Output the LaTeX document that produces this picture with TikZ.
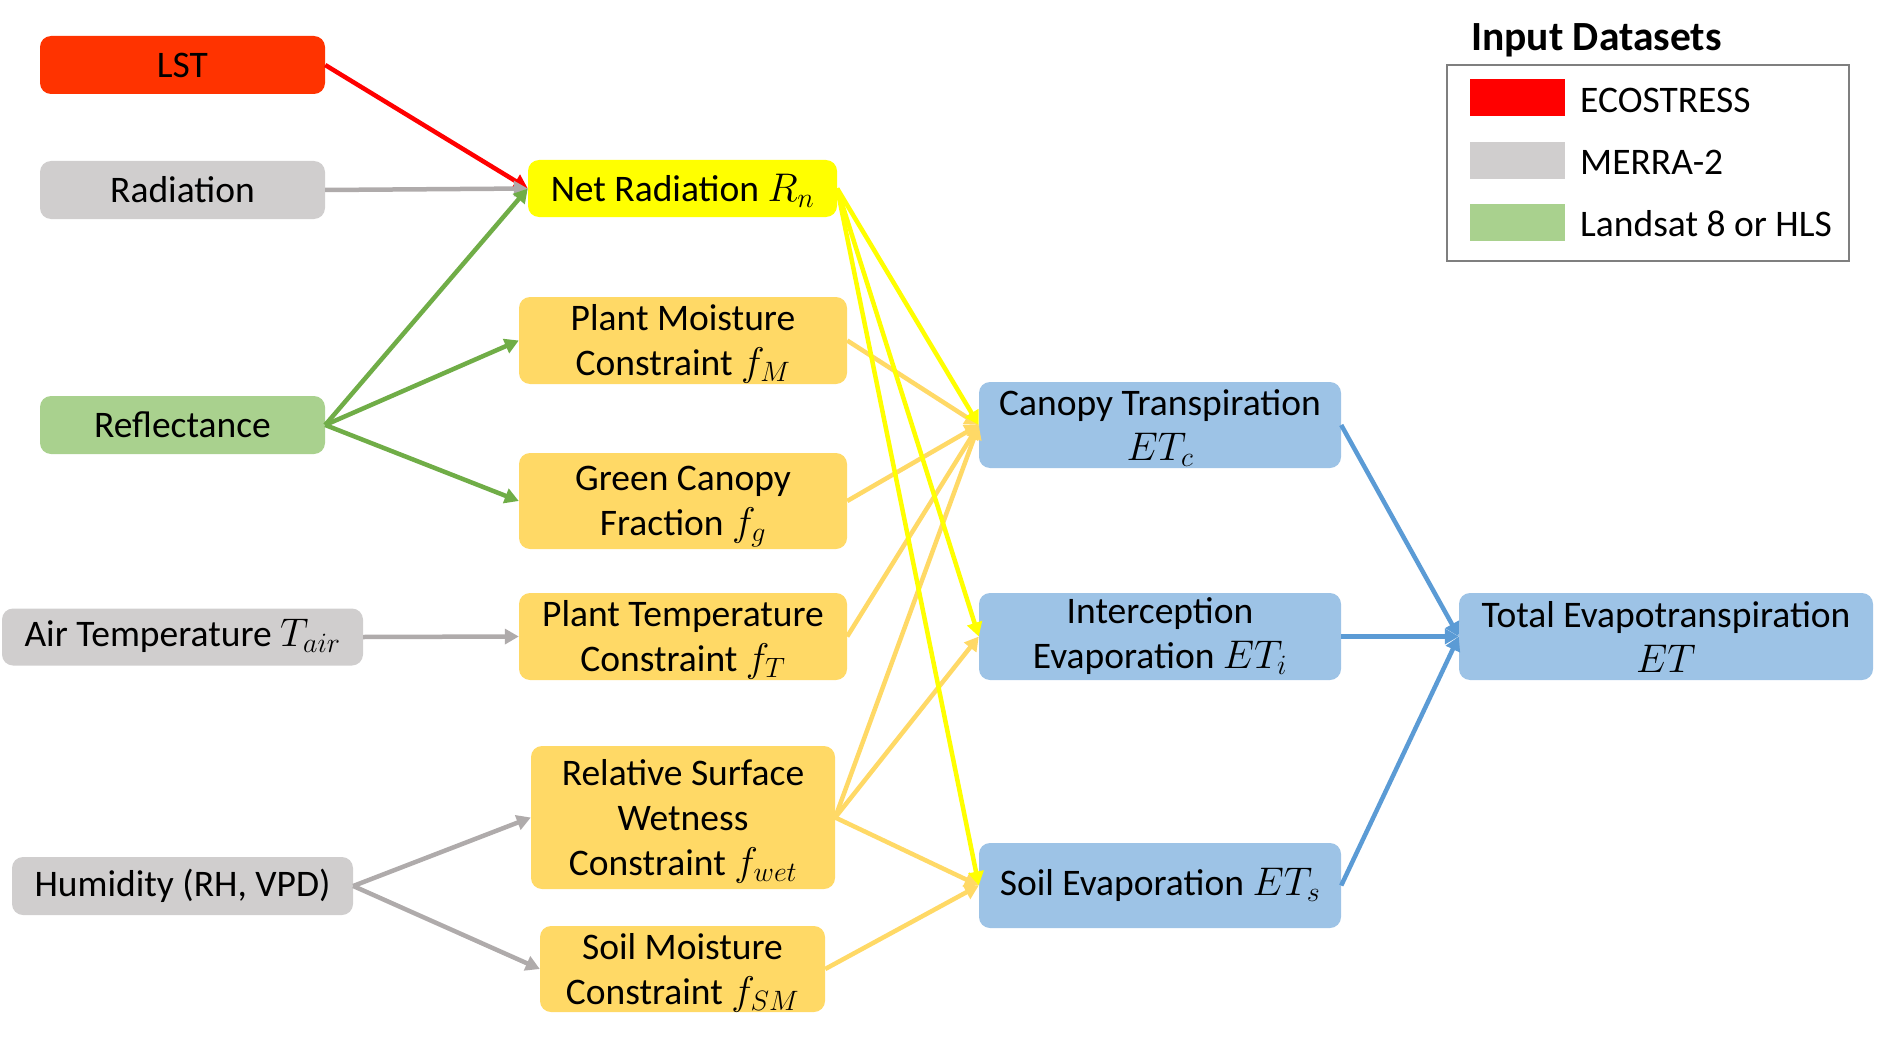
\RequirePackage{fix-cm}
\documentclass[tikz,border=0pt]{standalone}
\usepackage{fontspec}
\setmainfont{Carlito}
\usetikzlibrary{arrows.meta}
\definecolor{lstc}{HTML}{FF3300}
\definecolor{grayc}{HTML}{D0CECE}
\definecolor{greenc}{HTML}{A9D18E}
\definecolor{netc}{HTML}{FFFF00}
\definecolor{orc}{HTML}{FFD966}
\definecolor{bluec}{HTML}{9DC3E6}
\definecolor{redl}{HTML}{FF0000}
\definecolor{grayl}{HTML}{AFABAB}
\definecolor{greenl}{HTML}{70AD47}
\definecolor{bluel}{HTML}{5B9BD5}
\definecolor{legb}{HTML}{7F7F7F}
\newcommand\mth[1]{{\fontsize{40}{45}\selectfont\smash{$#1$}}}
\tikzset{
  box/.style={rounded corners=11pt, inner sep=0pt, align=center,
    font=\fontsize{37.5}{45}\selectfont},
  conn/.style={line width=4.5pt, -{Triangle[length=14pt,width=15pt]}},
  legtext/.style={font=\fontsize{37.5}{44}\selectfont, anchor=west, inner sep=0pt},
  swatch/.style={minimum width=95pt, minimum height=37pt, inner sep=0pt},
}
\begin{document}
\begin{tikzpicture}[x=1pt,y=-1pt]
\useasboundingbox (0,0) rectangle (1883,1038);
% inputs
\node[box, fill=lstc, minimum width=285pt, minimum height=58pt] (lst) at (182.5,65) {LST};
\node[box, fill=grayc, minimum width=285pt, minimum height=58pt] (rad) at (182.5,190) {Radiation};
\node[box, fill=greenc, minimum width=285pt, minimum height=58pt] (refl) at (182.5,425) {Reflectance};
\node[box, fill=grayc, minimum width=361pt, minimum height=57pt] (air) at (182.5,637) {Air Temperature \mth{T_{air}}};
\node[box, fill=grayc, minimum width=341pt, minimum height=58pt] (hum) at (182.5,886) {Humidity (RH, VPD)};
% middle
\node[box, fill=netc, minimum width=309pt, minimum height=57pt] (net) at (682.5,188.5) {Net Radiation \mth{R_n}};
\node[box, fill=orc, minimum width=328pt, minimum height=87pt] (pm) at (683,340.5) {Plant Moisture\\Constraint \mth{f_M}};
\node[box, fill=orc, minimum width=328pt, minimum height=96pt] (gc) at (683,501) {Green Canopy\\Fraction \mth{f_g}};
\node[box, fill=orc, minimum width=328pt, minimum height=87pt] (pt) at (683,636.5) {Plant Temperature\\Constraint \mth{f_T}};
\node[box, fill=orc, minimum width=304pt, minimum height=143pt] (rsw) at (683,817.5) {Relative Surface\\Wetness\\Constraint \mth{f_{wet}}};
\node[box, fill=orc, minimum width=285pt, minimum height=86pt] (sm) at (682.5,969) {Soil Moisture\\Constraint \mth{f_{SM}}};
% outputs
\node[box, fill=bluec, minimum width=362pt, minimum height=86pt] (ct) at (1160,425) {Canopy Transpiration\\\mth{ET_c}};
\node[box, fill=bluec, minimum width=362pt, minimum height=87pt] (ie) at (1160,636.5) {Interception\\Evaporation \mth{ET_i}};
\node[box, fill=bluec, minimum width=362pt, minimum height=85pt] (se) at (1160,885.5) {Soil Evaporation \mth{ET_s}};
\node[box, fill=bluec, minimum width=414pt, minimum height=87pt] (tet) at (1666,636.5) {Total Evapotranspiration\\\mth{ET}};
% legend
\node[font=\fontsize{41.5}{48}\selectfont\bfseries, anchor=west, inner sep=0pt] (legt) at (1471,40) {Input Datasets};
\node[draw=legb, line width=2pt, minimum width=402pt, minimum height=196pt, inner sep=0pt] (leg) at (1648,163) {};
\node[swatch, fill=redl] (s1) at (1517.5,97.5) {};
\node[swatch, fill=grayc] (s2) at (1517.5,160.5) {};
\node[swatch, fill=greenc] (s3) at (1517.5,222.5) {};
\node[legtext] (l1) at (1580,100) {ECOSTRESS};
\node[legtext] (l2) at (1580,162) {MERRA-2};
\node[legtext] (l3) at (1580,224) {Landsat 8 or HLS};
% connectors: inputs
\draw[conn, redl] (lst.east) -- (net.west);
\draw[conn, grayl] (rad.east) -- (net.west);
\draw[conn, greenl] (refl.east) -- (net.west);
\draw[conn, greenl] (refl.east) -- (pm.west);
\draw[conn, greenl] (refl.east) -- (gc.west);
\draw[conn, grayl] (air.east) -- (pt.west);
\draw[conn, grayl] (hum.east) -- (rsw.west);
\draw[conn, grayl] (hum.east) -- (sm.west);
% constraints
\draw[conn, orc] (pm.east) -- (ct.west);
\draw[conn, orc] (gc.east) -- (ct.west);
\draw[conn, orc] (pt.east) -- (ct.west);
\draw[conn, orc] (rsw.east) -- (ct.west);
\draw[conn, orc] (rsw.east) -- (ie.west);
\draw[conn, orc] (rsw.east) -- (se.west);
\draw[conn, orc] (sm.east) -- (se.west);
% net radiation
\draw[conn, netc] (net.east) -- (ct.west);
\draw[conn, netc] (net.east) -- (ie.west);
\draw[conn, netc] (net.east) -- (se.west);
% outputs
\draw[conn, bluel] (ct.east) -- (tet.west);
\draw[conn, bluel] (ie.east) -- (tet.west);
\draw[conn, bluel] (se.east) -- (tet.west);
\end{tikzpicture}
\end{document}
